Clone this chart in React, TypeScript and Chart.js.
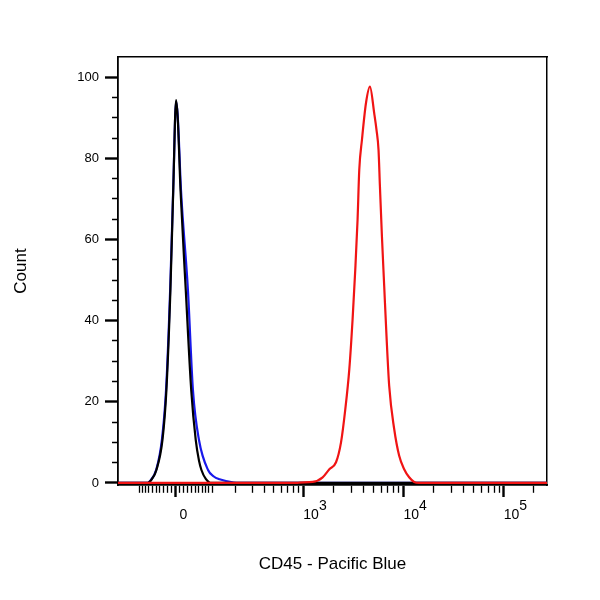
import React, { useEffect, useRef } from "react";
import { Chart, registerables } from "chart.js";

Chart.register(...registerables);

// Biexponential (arcsinh) display transform width, in raw fluorescence units
const LOGICLE_WIDTH = 107;
const xRangeRaw = [-187, 270000];
const yRange = [-0.5, 105];

// Unstained / isotype (black)
const blackX = [-187, -76, -68, -62, -49, -33, -23, -13, -6, 1, 5, 12, 25, 39, 51, 60, 67, 80, 98, 270000];
const blackCount = [0, 0, 0.3, 0.9, 3.2, 10.6, 22.9, 47.5, 72.3, 94.4, 90, 72, 47.5, 22.9, 10.6, 5.5, 3.2, 1, 0, 0];

// Control (blue)
const blueX = [-187, -77, -68, -49, -34, -23.5, -13.5, -6, 1, 5, 13, 30.5, 43.5, 60, 87, 106, 127, 160, 202, 270000];
const blueCount = [0, 0, 0.4, 3.4, 11, 23.6, 48, 72.8, 94, 90.5, 72.3, 47.5, 22.9, 10.6, 3.2, 1.6, 0.9, 0.4, 0, 0];

// CD45 - Pacific Blue stained (red)
const redX = [-187, 872, 913, 1241, 1561, 1821, 2123, 2382, 2629, 2881, 3107, 3305, 3484, 3623, 3854, 4224, 4630, 5109, 5386, 5639, 5823, 6096, 6425, 6773, 7205, 8080, 9061, 10161, 11394, 12776, 14327, 270000];
const redCount = [0, 0, 0.1, 0.25, 1.4, 3.4, 5.1, 10, 18.2, 28, 40.3, 52.6, 64.9, 77.2, 84.6, 93.6, 97.7, 91.1, 87, 82.1, 73.1, 60.8, 48.5, 36.2, 23.9, 13.3, 6.7, 3.4, 1.4, 0.25, 0, 0];

// Axis ticks
const xMajorTicks = [0, 1000, 10000, 100000];
const xMajorLabels: string[][] = [["", " 0"], ["    3", "10"], ["    4", "10"], ["    5", "10"]];
const xMinorTicks = [
  -100, -90, -80, -70, -60, -50, -40, -30, -20, -10,
  10, 20, 30, 40, 50, 60, 70, 80, 90,
  100, 200, 300, 400, 500, 600, 700, 800, 900,
  2000, 3000, 4000, 5000, 6000, 7000, 8000, 9000,
  20000, 30000, 40000, 50000, 60000, 70000, 80000, 90000,
  200000,
];
const yMajorTicks = [0, 20, 40, 60, 80, 100];
const yMajorLabels = ["0", "20", "40", "60", "80", "100"];
const yMinorTicks = [5, 10, 15, 25, 30, 35, 45, 50, 55, 65, 70, 75, 85, 90, 95];

const FONT = "'Liberation Sans', Arial, Helvetica, sans-serif";

const toDisplay = (v: number) => Math.asinh(v / LOGICLE_WIDTH) / Math.LN10;

type TickDef = { value: number; major: boolean; label: string | string[] };

const xTickList: TickDef[] = [
  ...xMajorTicks.map((v, i) => ({ value: v, major: true, label: xMajorLabels[i] })),
  ...xMinorTicks.map((v) => ({ value: v, major: false, label: "" })),
].sort((a, b) => a.value - b.value);

const yTickList: TickDef[] = [
  ...yMajorTicks.map((v, i) => ({ value: v, major: true, label: yMajorLabels[i] })),
  ...yMinorTicks.map((v) => ({ value: v, major: false, label: "" })),
].sort((a, b) => a.value - b.value);

const toPoints = (xs: number[], ys: number[]) => xs.map((v, i) => ({ x: toDisplay(v), y: ys[i] }));

export default function App() {
  const canvasRef = useRef<HTMLCanvasElement | null>(null);

  useEffect(() => {
    if (!canvasRef.current) return;
    const lineDefaults = {
      borderWidth: 2.2,
      pointRadius: 0,
      fill: false,
      cubicInterpolationMode: "monotone" as const,
    };
    const chart = new Chart(canvasRef.current, {
      type: "line",
      data: {
        datasets: [
          { label: "CD45 - Pacific Blue", data: toPoints(redX, redCount), borderColor: "rgb(240,20,20)", ...lineDefaults },
          { label: "Unstained", data: toPoints(blackX, blackCount), borderColor: "#000000", ...lineDefaults },
          { label: "Control", data: toPoints(blueX, blueCount), borderColor: "rgb(25,25,235)", ...lineDefaults },
        ],
      },
      options: {
        animation: false,
        responsive: false,
        maintainAspectRatio: false,
        layout: { padding: { left: 0, top: 57, right: 53, bottom: 0 } },
        plugins: { legend: { display: false }, tooltip: { enabled: false } },
        scales: {
          x: {
            type: "linear",
            position: "bottom",
            min: toDisplay(xRangeRaw[0]),
            max: toDisplay(xRangeRaw[1]),
            afterBuildTicks: (scale: any) => {
              scale.ticks = xTickList.map((t) => ({ value: toDisplay(t.value), major: false }));
            },
            afterFit: (scale: any) => {
              scale.height = 115;
            },
            ticks: {
              autoSkip: false,
              maxRotation: 0,
              minRotation: 0,
              padding: 5,
              color: "#000",
              font: { family: FONT, size: 14, lineHeight: 0.62 },
              align: "start",
              callback: (_v: any, index: number) => xTickList[index]?.label ?? "",
            },
            grid: {
              display: true,
              drawOnChartArea: false,
              drawTicks: true,
              tickLength: 12,
              tickColor: "#000",
              tickWidth: (ctx: any) => (xTickList[ctx.index]?.major ? 2.4 : 1.3),
              tickBorderDash: (ctx: any) => (xTickList[ctx.index]?.major ? [] : [7, 100]),
            },
            border: { display: true, color: "#000", width: 1.8 },
            title: {
              display: true,
              text: "CD45 - Pacific Blue",
              color: "#000",
              font: { family: FONT, size: 17, lineHeight: 1.2 },
              padding: { top: 0, bottom: 25 },
            },
          },
          y: {
            type: "linear",
            position: "left",
            min: yRange[0],
            max: yRange[1],
            afterBuildTicks: (scale: any) => {
              scale.ticks = yTickList.map((t) => ({ value: t.value, major: false }));
            },
            afterFit: (scale: any) => {
              scale.width = 118;
            },
            ticks: {
              autoSkip: false,
              padding: 6,
              color: "#000",
              font: { family: FONT, size: 13 },
              callback: (_v: any, index: number) => yTickList[index]?.label ?? "",
            },
            grid: {
              display: true,
              drawOnChartArea: false,
              drawTicks: true,
              tickLength: 13,
              tickColor: "#000",
              tickWidth: (ctx: any) => (yTickList[ctx.index]?.major ? 2.4 : 1.3),
              tickBorderDash: (ctx: any) => (yTickList[ctx.index]?.major ? [] : [0, 7, 6, 100]),
            },
            border: { display: true, color: "#000", width: 1.8 },
            title: {
              display: true,
              text: "Count",
              color: "#000",
              font: { family: FONT, size: 17, lineHeight: 1.2 },
              padding: { top: 11.5, bottom: 0 },
            },
          },
          xTop: {
            axis: "x",
            type: "linear",
            position: "top",
            min: 0,
            max: 1,
            ticks: { display: false },
            grid: { display: false, drawTicks: false },
            border: { display: true, color: "#000", width: 1.5 },
            afterFit: (scale: any) => {
              scale.height = 0;
            },
          },
          yRight: {
            axis: "y",
            type: "linear",
            position: "right",
            min: 0,
            max: 1,
            ticks: { display: false },
            grid: { display: false, drawTicks: false },
            border: { display: true, color: "#000", width: 1.5 },
            afterFit: (scale: any) => {
              scale.width = 0;
            },
          },
        } as any,
      },
    });
    return () => chart.destroy();
  }, []);

  return (
    <div style={{ position: "absolute", left: 0, top: 0, width: 600, height: 600, background: "#fff" }}>
      <canvas ref={canvasRef} width={600} height={600} style={{ width: 600, height: 600, display: "block" }} />
    </div>
  );
}
